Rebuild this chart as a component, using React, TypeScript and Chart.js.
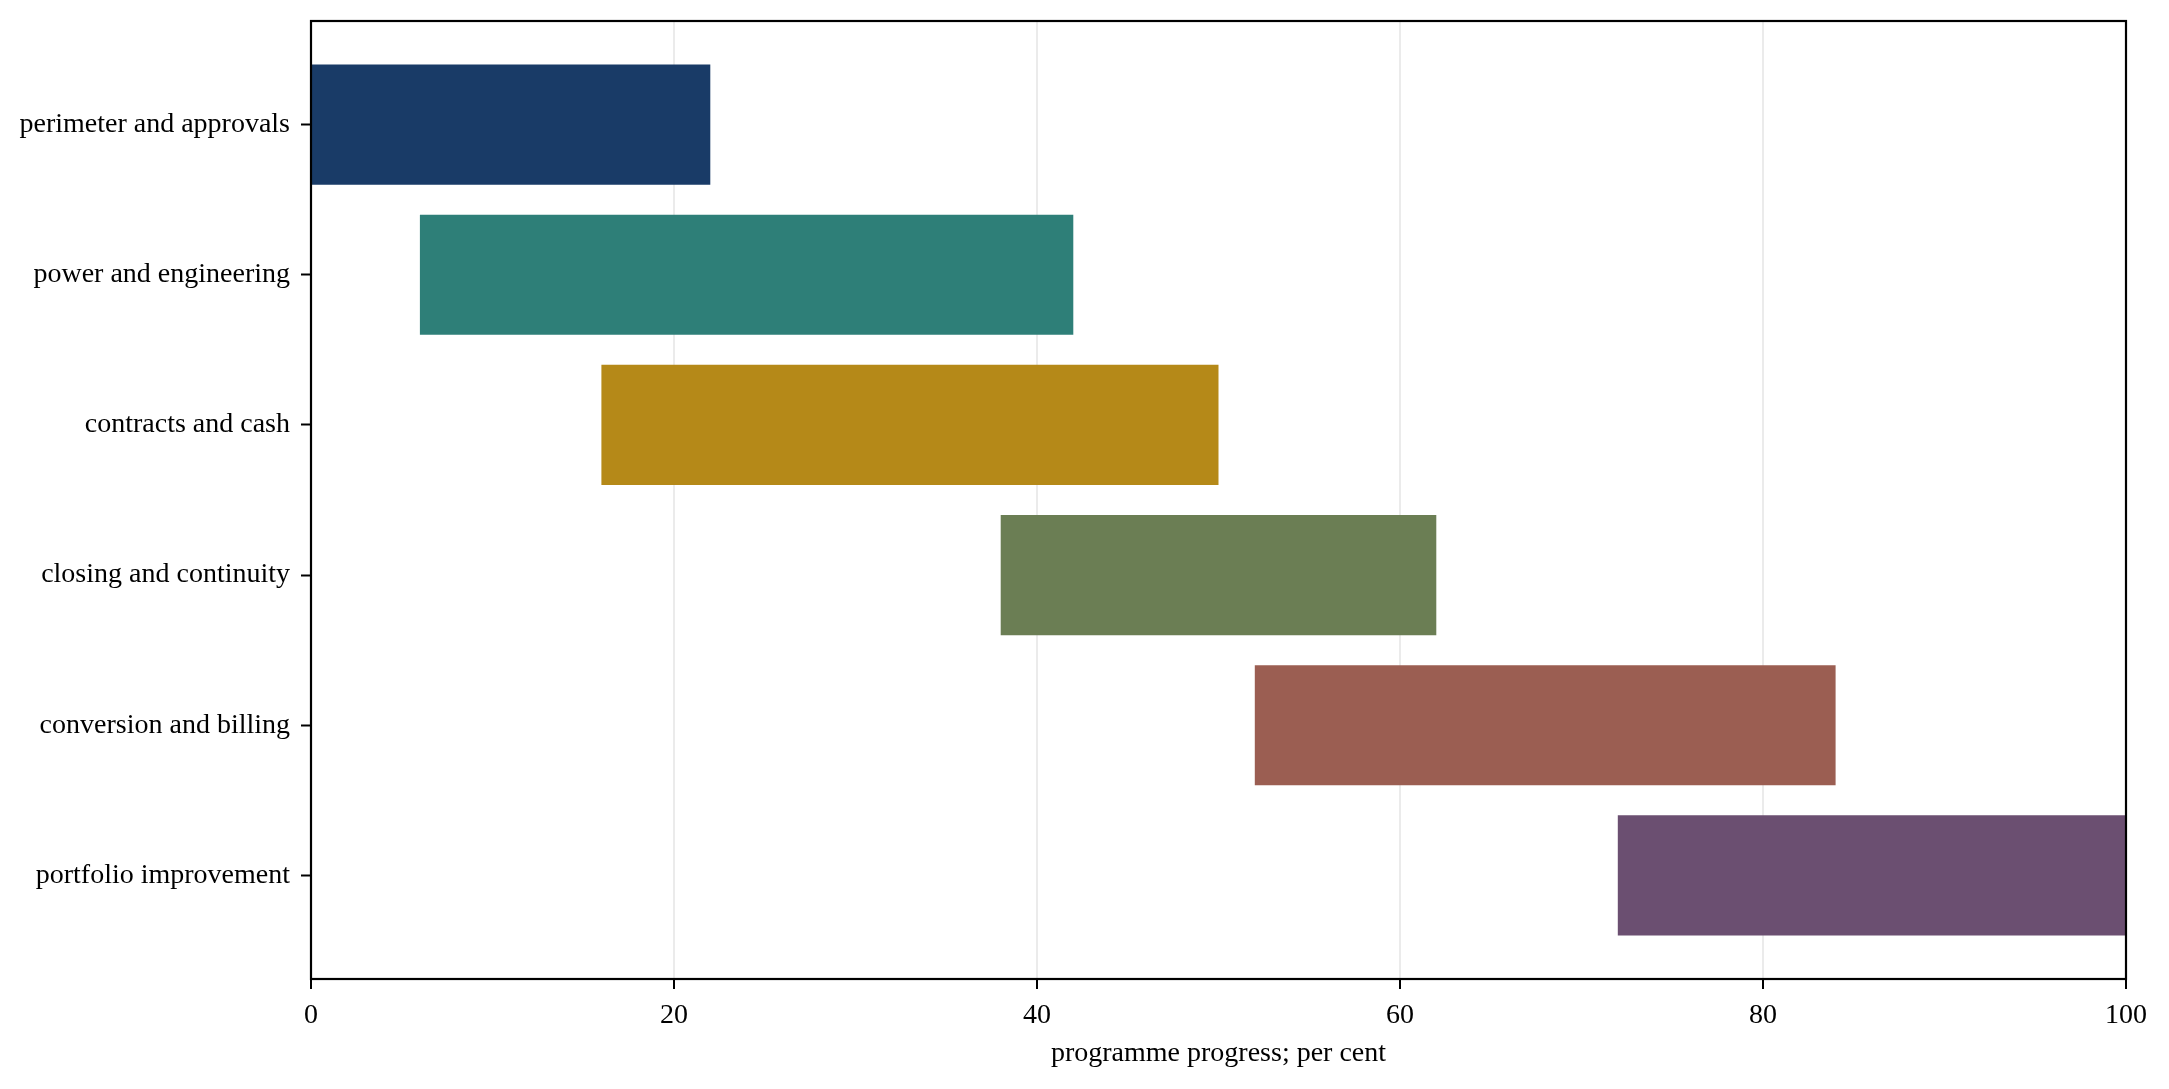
import { useEffect, useRef } from "react"
import { Chart, registerables } from "chart.js"

Chart.register(...registerables)

const stages = [
  "perimeter and approvals",
  "power and engineering",
  "contracts and cash",
  "closing and continuity",
  "conversion and billing",
  "portfolio improvement",
]
const starts = [0, 6, 16, 38, 52, 72]
const ends = [22, 42, 50, 62, 84, 100]
const colors = ["#193b67", "#2e7f78", "#b58918", "#6b7e54", "#9b5e52", "#6b4f71"]
const xTicks = [0, 20, 40, 60, 80, 100]

const FONT = "'Liberation Serif', 'Times New Roman', serif"

// full black box around the plot area
const frame = {
  id: "frame",
  afterDraw(chart: Chart) {
    const { ctx, chartArea } = chart
    ctx.save()
    ctx.strokeStyle = "#000"
    ctx.lineWidth = 2.2
    ctx.strokeRect(chartArea.left, chartArea.top, chartArea.right - chartArea.left, chartArea.bottom - chartArea.top)
    ctx.restore()
  },
}

export default function App() {
  const canvasRef = useRef<HTMLCanvasElement>(null)
  const chartRef = useRef<Chart | null>(null)

  useEffect(() => {
    if (!canvasRef.current) return
    if (chartRef.current) chartRef.current.destroy()

    chartRef.current = new Chart(canvasRef.current, {
      type: "bar",
      data: {
        datasets: [
          {
            data: stages.map((_, i) => ({ x: [starts[i], ends[i]], y: i })) as any,
            backgroundColor: colors,
            borderWidth: 0,
            barPercentage: 0.8,
            categoryPercentage: 1,
          },
        ],
      },
      options: {
        indexAxis: "y",
        responsive: true,
        maintainAspectRatio: false,
        animation: false,
        layout: { padding: { top: 21, right: 43, left: 0, bottom: 0 } },
        plugins: {
          legend: { display: false },
          tooltip: { enabled: false },
        },
        scales: {
          x: {
            type: "linear",
            min: 0,
            max: 100,
            z: 1,
            afterBuildTicks: (scale: any) => {
              scale.ticks = xTicks.map((v) => ({ value: v }))
            },
            afterFit: (scale: any) => {
              scale.height = 110
            },
            border: { display: false },
            grid: {
              color: "rgba(176,176,176,0.26)",
              lineWidth: 2,
              tickColor: "#000",
              tickLength: 10,
              tickWidth: 2,
            },
            ticks: {
              color: "#000",
              padding: 10,
              font: { family: FONT, size: 28 },
            },
            title: {
              display: true,
              text: "programme progress; per cent",
              color: "#000",
              font: { family: FONT, size: 28 },
              padding: { top: 4, bottom: 19 },
            },
          },
          y: {
            type: "linear",
            min: -0.69,
            max: 5.69,
            reverse: true,
            offset: false,
            afterBuildTicks: (scale: any) => {
              scale.ticks = stages.map((_, i) => ({ value: i }))
            },
            afterFit: (scale: any) => {
              scale.width = 311
              scale.paddingTop = 0
              scale.paddingBottom = 0
            },
            border: { display: false },
            grid: {
              offset: false,
              color: "rgba(0,0,0,0)",
              tickColor: "#000",
              tickLength: 10,
              tickWidth: 2,
            },
            ticks: {
              color: "#000",
              padding: 11,
              font: { family: FONT, size: 28 },
              callback: (v: any) => stages[v] ?? "",
            },
          },
        },
      },
      plugins: [frame],
    })

    return () => {
      if (chartRef.current) {
        chartRef.current.destroy()
        chartRef.current = null
      }
    }
  }, [])

  return (
    <div style={{ position: "fixed", left: 0, top: 0, width: 2169, height: 1089, background: "#fff" }}>
      <canvas ref={canvasRef} />
    </div>
  )
}
